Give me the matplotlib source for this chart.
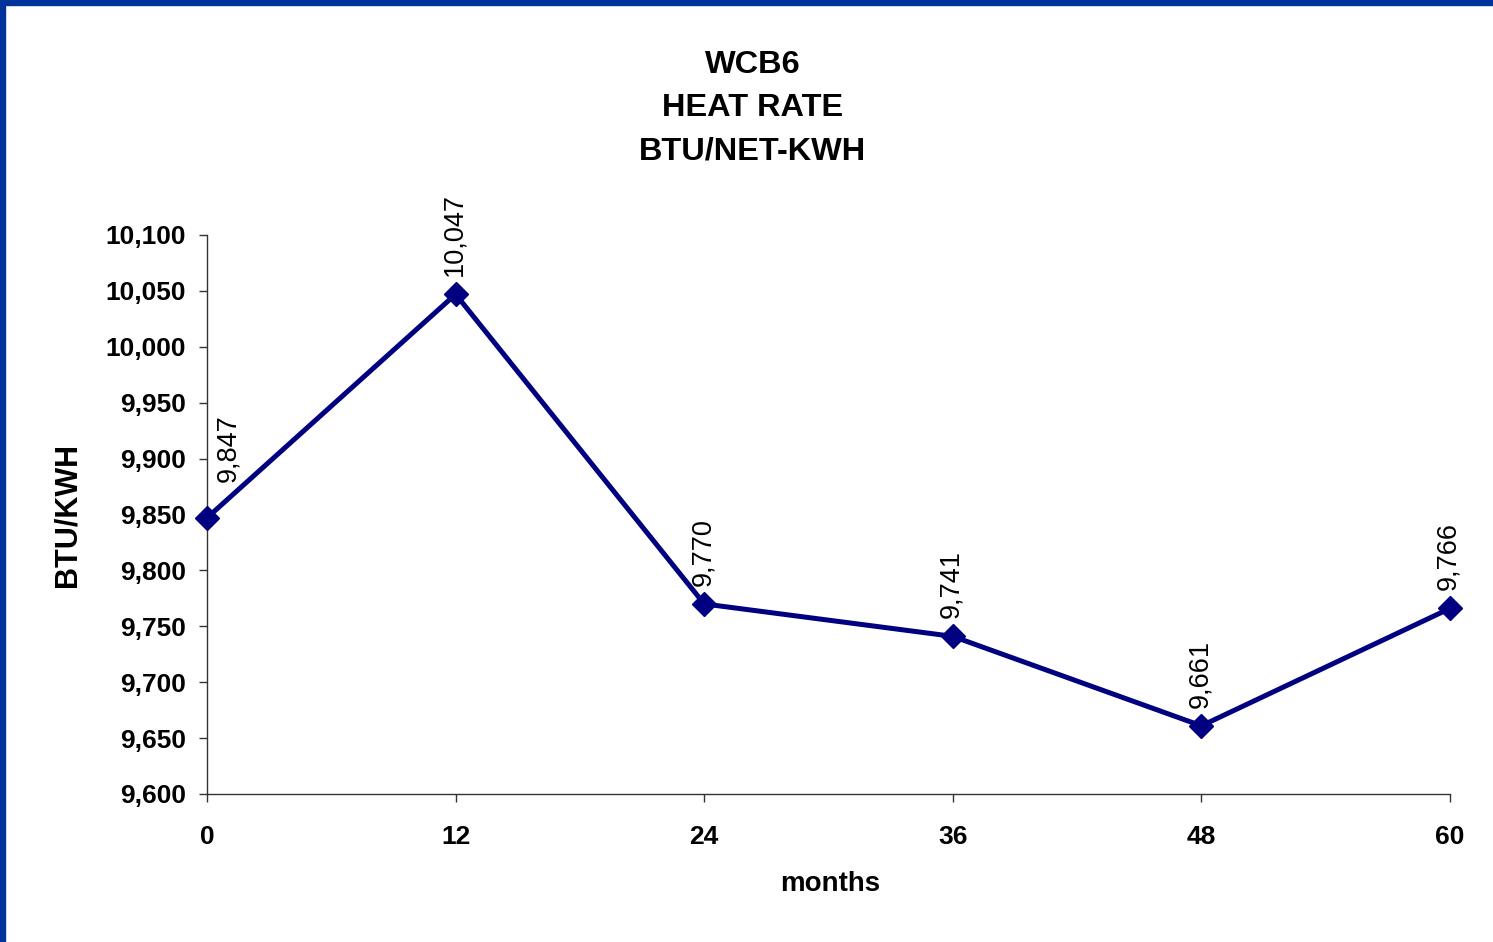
import matplotlib
matplotlib.use("Agg")
import matplotlib.pyplot as plt
from matplotlib.patches import Rectangle
from matplotlib.ticker import FuncFormatter

plt.rcParams['font.family'] = ['Liberation Sans', 'DejaVu Sans']

## Data
months    = [0, 12, 24, 36, 48, 60]
heat_rate = [9847, 10047, 9770, 9741, 9661, 9766]
y_ticks   = [9600, 9650, 9700, 9750, 9800, 9850, 9900, 9950, 10000, 10050, 10100]
title_lines = ["WCB6", "HEAT RATE", "BTU/NET-KWH"]

line_col = "#000080"
frame_col = "#003399"

W, H = 1493, 942
fig = plt.figure(figsize=(W / 100, H / 100), dpi=100)
fig.patch.set_facecolor("white")

## Frame on left and top
fig.patches.append(Rectangle((0, 0), 5 / W, 1, transform=fig.transFigure, color=frame_col, zorder=10))
fig.patches.append(Rectangle((0, 1 - 5 / H), 1, 5 / H, transform=fig.transFigure, color=frame_col, zorder=10))

ax = fig.add_axes([207 / W, 1 - 794 / H, (1450 - 207) / W, (794 - 235) / H])
ax.plot(months, heat_rate, color=line_col, lw=3.6, marker="D", markersize=12.5,
        markerfacecolor=line_col, markeredgecolor=line_col, clip_on=False, zorder=3)

## Data labels
for i, (x, y) in enumerate(zip(months, heat_rate)):
    dx, dy = (15, 26) if i == 0 else (-1, 13)
    ax.annotate(f"{y:,}", (x, y), xytext=(dx, dy), textcoords="offset points",
                rotation=90, ha="center", va="bottom", fontsize=19.5, color="black")

ax.set_xlim(0, 60)
ax.set_ylim(9600, 10100)
ax.set_xticks(months)
ax.set_yticks(y_ticks)
ax.yaxis.set_major_formatter(FuncFormatter(lambda v, p: f"{int(v):,}"))

for s in ["top", "right"]:
    ax.spines[s].set_visible(False)
for s in ["left", "bottom"]:
    ax.spines[s].set_color("#333333")
    ax.spines[s].set_linewidth(1.0)

ax.tick_params(axis="both", direction="out", length=6, width=1, color="#333333",
               labelsize=19)
ax.tick_params(axis="y", pad=9)
ax.tick_params(axis="x", pad=16)
for lab in ax.get_xticklabels() + ax.get_yticklabels():
    lab.set_fontweight("bold")

## Titles and axis labels
fig.text(753 / W, 1 - 108 / H, "\n".join(title_lines), ha="center", va="center",
         fontsize=23.4, fontweight="bold", linespacing=1.57)
fig.text(68 / W, 1 - 515 / H, "BTU/KWH", rotation=90, ha="center", va="center",
         fontsize=22, fontweight="bold")
fig.text(830 / W, 1 - 884 / H, "months", ha="center", va="center",
         fontsize=20, fontweight="bold")

fig.savefig("out.png", dpi=100)
plt.close(fig)
